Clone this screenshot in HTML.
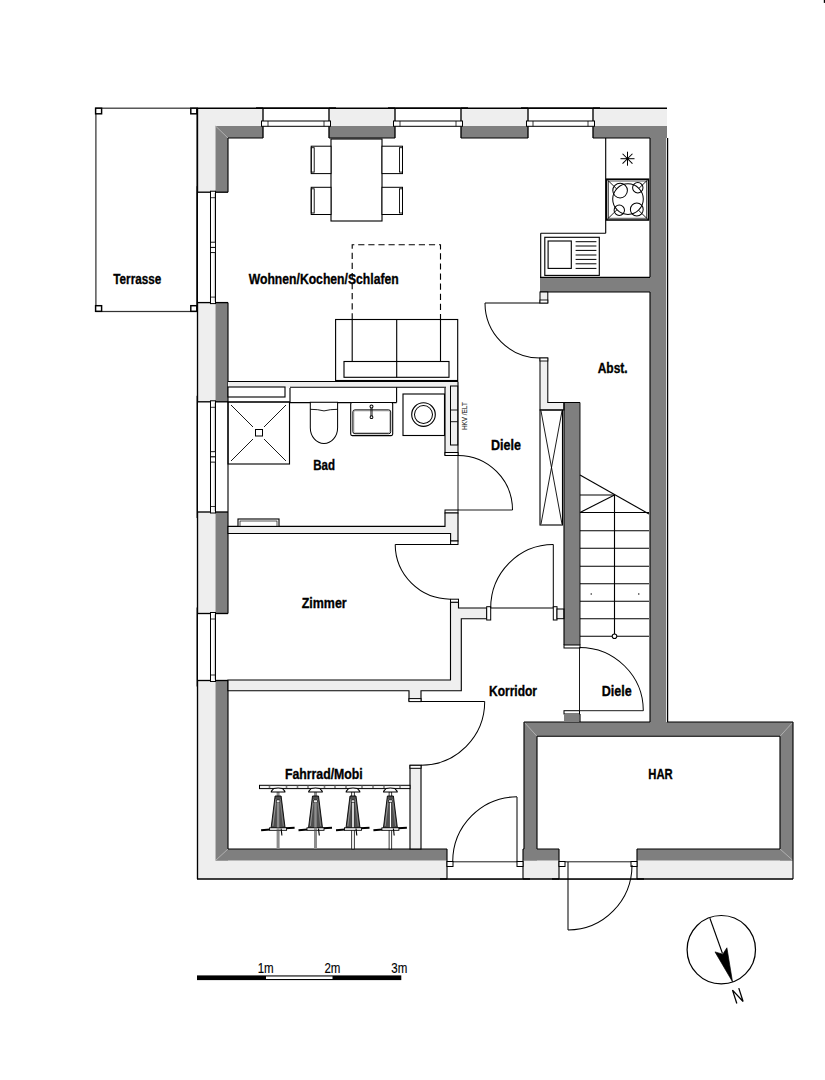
<!DOCTYPE html>
<html><head><meta charset="utf-8"><style>
html,body{margin:0;padding:0;background:#fff;}
svg{display:block;font-family:"Liberation Sans",sans-serif;}
</style></head><body>
<svg width="825" height="1080" viewBox="0 0 825 1080">
<rect x="95.9" y="108.2" width="101.1" height="203.3" fill="none" stroke="#333" stroke-width="1.232"/>
<rect x="95.6" y="108.2" width="6.0" height="5.6" fill="#fff" stroke="#000" stroke-width="1.456"/>
<rect x="190.8" y="108.2" width="6.0" height="5.6" fill="#fff" stroke="#000" stroke-width="1.456"/>
<rect x="95.6" y="305.7" width="6.0" height="5.6" fill="#fff" stroke="#000" stroke-width="1.456"/>
<rect x="190.8" y="305.7" width="6.0" height="5.6" fill="#fff" stroke="#000" stroke-width="1.456"/>
<rect x="197" y="108.2" width="470" height="17.8" fill="#eeeeee" stroke="none" stroke-width="1.12"/>
<rect x="197.5" y="108.2" width="18.0" height="770.8" fill="#eeeeee" stroke="none" stroke-width="1.12"/>
<rect x="197" y="860.5" width="596" height="18.5" fill="#eeeeee" stroke="none" stroke-width="1.12"/>
<rect x="216" y="126" width="451" height="12" fill="#7f7f7f" stroke="none" stroke-width="1.12"/>
<rect x="215.5" y="126" width="12.5" height="734.5" fill="#7f7f7f" stroke="none" stroke-width="1.12"/>
<rect x="650" y="126" width="16.2" height="596" fill="#7f7f7f" stroke="none" stroke-width="1.12"/>
<rect x="216" y="849" width="577" height="11.5" fill="#7f7f7f" stroke="none" stroke-width="1.12"/>
<rect x="524" y="722" width="269" height="14.3" fill="#7f7f7f" stroke="none" stroke-width="1.12"/>
<rect x="780" y="722" width="13" height="138.5" fill="#7f7f7f" stroke="none" stroke-width="1.12"/>
<rect x="524" y="722" width="13" height="138.5" fill="#7f7f7f" stroke="none" stroke-width="1.12"/>
<rect x="540" y="277" width="110" height="15" fill="#7f7f7f" stroke="none" stroke-width="1.12"/>
<rect x="564" y="402.5" width="16" height="242.5" fill="#7f7f7f" stroke="none" stroke-width="1.12"/>
<line x1="215.5" y1="126" x2="228" y2="138" stroke="#b5b5b5" stroke-width="0.896" />
<line x1="215.5" y1="860.5" x2="228" y2="849" stroke="#b5b5b5" stroke-width="0.896" />
<line x1="524" y1="722" x2="537" y2="736.3" stroke="#b5b5b5" stroke-width="0.896" />
<line x1="793" y1="722" x2="780" y2="736.3" stroke="#b5b5b5" stroke-width="0.896" />
<line x1="793" y1="860.5" x2="780" y2="849" stroke="#b5b5b5" stroke-width="0.896" />
<line x1="197" y1="108.2" x2="667" y2="108.2" stroke="#000" stroke-width="1.456" />
<line x1="197.5" y1="108.2" x2="197.5" y2="879" stroke="#000" stroke-width="1.344" />
<line x1="197" y1="879" x2="793" y2="879" stroke="#000" stroke-width="1.456" />
<line x1="228" y1="138" x2="650" y2="138" stroke="#000" stroke-width="1.12" />
<line x1="228" y1="138" x2="228" y2="849" stroke="#000" stroke-width="1.12" />
<line x1="650" y1="138" x2="650" y2="277" stroke="#000" stroke-width="1.12" />
<line x1="650" y1="292" x2="650" y2="722" stroke="#000" stroke-width="1.12" />
<line x1="667.6" y1="138" x2="667.6" y2="722" stroke="#000" stroke-width="1.232" />
<line x1="228" y1="849" x2="524" y2="849" stroke="#000" stroke-width="1.12" />
<line x1="537" y1="849" x2="780" y2="849" stroke="#000" stroke-width="1.12" />
<line x1="537" y1="736.3" x2="780" y2="736.3" stroke="#000" stroke-width="1.12" />
<line x1="537" y1="736.3" x2="537" y2="849" stroke="#000" stroke-width="1.12" />
<line x1="780" y1="736.3" x2="780" y2="849" stroke="#000" stroke-width="1.12" />
<line x1="524" y1="722" x2="650" y2="722" stroke="#000" stroke-width="1.12" />
<line x1="667" y1="722" x2="793" y2="722" stroke="#000" stroke-width="1.12" />
<line x1="793" y1="722" x2="793" y2="879" stroke="#000" stroke-width="1.12" />
<line x1="524" y1="722" x2="524" y2="849" stroke="#000" stroke-width="1.12" />
<line x1="540" y1="292" x2="650" y2="292" stroke="#000" stroke-width="1.12" />
<rect x="263" y="107" width="66" height="32" fill="#fff" stroke="none" stroke-width="1.12"/>
<line x1="256" y1="108.2" x2="336" y2="108.2" stroke="#000" stroke-width="1.792" />
<line x1="263" y1="108.2" x2="263" y2="138" stroke="#000" stroke-width="1.344" />
<line x1="329" y1="108.2" x2="329" y2="138" stroke="#000" stroke-width="1.344" />
<rect x="261.5" y="121" width="69.0" height="5.3" fill="#fff" stroke="#000" stroke-width="1.008"/>
<line x1="268" y1="121" x2="268" y2="126.3" stroke="#000" stroke-width="0.784" />
<line x1="324" y1="121" x2="324" y2="126.3" stroke="#000" stroke-width="0.784" />
<rect x="395" y="107" width="66" height="32" fill="#fff" stroke="none" stroke-width="1.12"/>
<line x1="388" y1="108.2" x2="468" y2="108.2" stroke="#000" stroke-width="1.792" />
<line x1="395" y1="108.2" x2="395" y2="138" stroke="#000" stroke-width="1.344" />
<line x1="461" y1="108.2" x2="461" y2="138" stroke="#000" stroke-width="1.344" />
<rect x="393.5" y="121" width="69.0" height="5.3" fill="#fff" stroke="#000" stroke-width="1.008"/>
<line x1="400" y1="121" x2="400" y2="126.3" stroke="#000" stroke-width="0.784" />
<line x1="456" y1="121" x2="456" y2="126.3" stroke="#000" stroke-width="0.784" />
<rect x="528" y="107" width="65" height="32" fill="#fff" stroke="none" stroke-width="1.12"/>
<line x1="521" y1="108.2" x2="600" y2="108.2" stroke="#000" stroke-width="1.792" />
<line x1="528" y1="108.2" x2="528" y2="138" stroke="#000" stroke-width="1.344" />
<line x1="593" y1="108.2" x2="593" y2="138" stroke="#000" stroke-width="1.344" />
<rect x="526.5" y="121" width="68.0" height="5.3" fill="#fff" stroke="#000" stroke-width="1.008"/>
<line x1="533" y1="121" x2="533" y2="126.3" stroke="#000" stroke-width="0.784" />
<line x1="588" y1="121" x2="588" y2="126.3" stroke="#000" stroke-width="0.784" />
<rect x="197" y="192.2" width="32" height="110.4" fill="#fff" stroke="none" stroke-width="1.12"/>
<line x1="197.3" y1="186.2" x2="197.3" y2="308.6" stroke="#000" stroke-width="1.456" />
<line x1="197" y1="192.2" x2="228" y2="192.2" stroke="#000" stroke-width="1.344" />
<line x1="197" y1="302.6" x2="228" y2="302.6" stroke="#000" stroke-width="1.344" />
<rect x="210.5" y="191.2" width="5.0" height="112.4" fill="#fff" stroke="#000" stroke-width="1.008"/>
<line x1="214.3" y1="193.2" x2="214.3" y2="301.6" stroke="#999" stroke-width="0.56" />
<rect x="210.5" y="242.20000000000002" width="5.0" height="5.2" fill="#fff" stroke="#000" stroke-width="0.896"/>
<rect x="210.5" y="247.4" width="5.0" height="5.2" fill="#fff" stroke="#000" stroke-width="0.896"/>
<line x1="210.5" y1="197.7" x2="215.5" y2="197.7" stroke="#000" stroke-width="0.784" />
<line x1="210.5" y1="297.1" x2="215.5" y2="297.1" stroke="#000" stroke-width="0.784" />
<rect x="197" y="401.8" width="32" height="110.2" fill="#fff" stroke="none" stroke-width="1.12"/>
<line x1="197.3" y1="395.8" x2="197.3" y2="518" stroke="#000" stroke-width="1.456" />
<line x1="197" y1="401.8" x2="228" y2="401.8" stroke="#000" stroke-width="1.344" />
<line x1="197" y1="512" x2="228" y2="512" stroke="#000" stroke-width="1.344" />
<rect x="210.5" y="400.8" width="5.0" height="112.2" fill="#fff" stroke="#000" stroke-width="1.008"/>
<line x1="214.3" y1="402.8" x2="214.3" y2="511" stroke="#999" stroke-width="0.56" />
<rect x="210.5" y="451.7" width="5.0" height="5.2" fill="#fff" stroke="#000" stroke-width="0.896"/>
<rect x="210.5" y="456.9" width="5.0" height="5.2" fill="#fff" stroke="#000" stroke-width="0.896"/>
<line x1="210.5" y1="407.3" x2="215.5" y2="407.3" stroke="#000" stroke-width="0.784" />
<line x1="210.5" y1="506.5" x2="215.5" y2="506.5" stroke="#000" stroke-width="0.784" />
<line x1="228" y1="401.8" x2="228" y2="512" stroke="#000" stroke-width="1.12" />
<rect x="197" y="613.5" width="32" height="67.0" fill="#fff" stroke="none" stroke-width="1.12"/>
<line x1="197.3" y1="607.5" x2="197.3" y2="686.5" stroke="#000" stroke-width="1.456" />
<line x1="197" y1="613.5" x2="228" y2="613.5" stroke="#000" stroke-width="1.344" />
<line x1="197" y1="680.5" x2="228" y2="680.5" stroke="#000" stroke-width="1.344" />
<rect x="210.5" y="612.5" width="5.0" height="69.0" fill="#fff" stroke="#000" stroke-width="1.008"/>
<line x1="214.3" y1="614.5" x2="214.3" y2="679.5" stroke="#999" stroke-width="0.56" />
<line x1="210.5" y1="619.0" x2="215.5" y2="619.0" stroke="#000" stroke-width="0.784" />
<line x1="210.5" y1="675.0" x2="215.5" y2="675.0" stroke="#000" stroke-width="0.784" />
<rect x="447" y="848" width="76" height="31.5" fill="#fff" stroke="none" stroke-width="1.12"/>
<line x1="440" y1="879" x2="530" y2="879" stroke="#000" stroke-width="1.456" />
<line x1="447" y1="849" x2="447" y2="879" stroke="#000" stroke-width="1.12" />
<line x1="523" y1="849" x2="523" y2="879" stroke="#000" stroke-width="1.12" />
<rect x="447" y="861.5" width="6" height="5.0" fill="#fff" stroke="#000" stroke-width="1.008"/>
<rect x="517" y="861.5" width="6" height="5.0" fill="#fff" stroke="#000" stroke-width="1.008"/>
<line x1="453" y1="861.8" x2="517" y2="861.8" stroke="#000" stroke-width="0.896" />
<rect x="559" y="848" width="78" height="31.5" fill="#fff" stroke="none" stroke-width="1.12"/>
<line x1="552" y1="879" x2="644" y2="879" stroke="#000" stroke-width="1.456" />
<line x1="559" y1="849" x2="559" y2="879" stroke="#000" stroke-width="1.12" />
<line x1="637" y1="849" x2="637" y2="879" stroke="#000" stroke-width="1.12" />
<rect x="559" y="861.5" width="6" height="5.0" fill="#fff" stroke="#000" stroke-width="1.008"/>
<rect x="631" y="861.5" width="6" height="5.0" fill="#fff" stroke="#000" stroke-width="1.008"/>
<line x1="565" y1="861.8" x2="631" y2="861.8" stroke="#000" stroke-width="0.896" />
<line x1="605.7" y1="138" x2="605.7" y2="233.2" stroke="#000" stroke-width="1.12" />
<line x1="540.7" y1="233.2" x2="605.7" y2="233.2" stroke="#000" stroke-width="1.12" />
<line x1="540.7" y1="233.2" x2="540.7" y2="277.4" stroke="#000" stroke-width="1.12" />
<line x1="540" y1="277.4" x2="650" y2="277.4" stroke="#000" stroke-width="1.12" />
<line x1="620.5" y1="158.7" x2="634.5" y2="158.7" stroke="#000" stroke-width="1.008" />
<line x1="622.5502525316941" y1="153.75025253169414" x2="632.4497474683059" y2="163.64974746830583" stroke="#000" stroke-width="1.008" />
<line x1="627.5" y1="151.7" x2="627.5" y2="165.7" stroke="#000" stroke-width="1.008" />
<line x1="632.4497474683059" y1="153.75025253169414" x2="622.5502525316941" y2="163.64974746830583" stroke="#000" stroke-width="1.008" />
<circle cx="627.5" cy="158.7" r="1.2" fill="#000" stroke="none" stroke-width="1.12"/>
<line x1="607" y1="179.5" x2="648" y2="219.5" stroke="#000" stroke-width="0.896" />
<line x1="648" y1="179.5" x2="607" y2="219.5" stroke="#000" stroke-width="0.896" />
<rect x="606.5" y="179.2" width="42.0" height="40.8" fill="none" stroke="#000" stroke-width="1.568"/>
<rect x="608.3" y="181" width="38.4" height="37.2" fill="none" stroke="#000" stroke-width="0.672"/>
<circle cx="628" cy="199.1" r="15.3" fill="#fff" stroke="#000" stroke-width="1.008"/>
<circle cx="620.1" cy="190.6" r="7.3" fill="none" stroke="#000" stroke-width="1.008"/>
<circle cx="637.8" cy="187.7" r="5.2" fill="none" stroke="#000" stroke-width="1.008"/>
<circle cx="619.3" cy="210.3" r="5.2" fill="none" stroke="#000" stroke-width="1.008"/>
<circle cx="636.8" cy="209.5" r="6.4" fill="none" stroke="#000" stroke-width="1.008"/>
<rect x="544.8" y="237.3" width="54.5" height="38.1" fill="none" stroke="#000" stroke-width="1.12"/>
<rect x="548.1" y="241" width="23.2" height="27.4" fill="none" stroke="#000" stroke-width="1.12"/>
<line x1="575.6" y1="241.7" x2="596.4" y2="241.7" stroke="#000" stroke-width="1.008" />
<line x1="575.6" y1="246" x2="596.4" y2="246" stroke="#000" stroke-width="1.008" />
<line x1="575.6" y1="250.4" x2="596.4" y2="250.4" stroke="#000" stroke-width="1.008" />
<line x1="575.6" y1="255" x2="596.4" y2="255" stroke="#000" stroke-width="1.008" />
<line x1="575.6" y1="259.4" x2="596.4" y2="259.4" stroke="#000" stroke-width="1.008" />
<line x1="575.6" y1="263.8" x2="596.4" y2="263.8" stroke="#000" stroke-width="1.008" />
<line x1="575.6" y1="268.4" x2="596.4" y2="268.4" stroke="#000" stroke-width="1.008" />
<rect x="331" y="139" width="51" height="82" fill="#fff" stroke="#000" stroke-width="1.12"/>
<rect x="311.2" y="146.2" width="19.8" height="27.4" fill="#fff" stroke="#000" stroke-width="1.008"/>
<rect x="311.2" y="147.7" width="3.0" height="24.4" fill="none" stroke="#000" stroke-width="0.896"/>
<rect x="311.2" y="187.3" width="19.8" height="27.2" fill="#fff" stroke="#000" stroke-width="1.008"/>
<rect x="311.2" y="188.8" width="3.0" height="24.2" fill="none" stroke="#000" stroke-width="0.896"/>
<rect x="382" y="146.2" width="20.5" height="27.4" fill="#fff" stroke="#000" stroke-width="1.008"/>
<rect x="399.5" y="147.7" width="3.0" height="24.4" fill="none" stroke="#000" stroke-width="0.896"/>
<rect x="382" y="187.3" width="20.5" height="27.2" fill="#fff" stroke="#000" stroke-width="1.008"/>
<rect x="399.5" y="188.8" width="3.0" height="24.2" fill="none" stroke="#000" stroke-width="0.896"/>
<rect x="335.6" y="319.5" width="122.1" height="61.0" fill="#fff" stroke="#000" stroke-width="1.12"/>
<line x1="396.7" y1="319.5" x2="396.7" y2="377.3" stroke="#000" stroke-width="1.12" />
<line x1="352.2" y1="319.5" x2="352.2" y2="361.5" stroke="#000" stroke-width="1.12" />
<line x1="440.5" y1="319.5" x2="440.5" y2="361.5" stroke="#000" stroke-width="1.12" />
<rect x="344" y="361.5" width="105" height="15.8" fill="#fff" stroke="#000" stroke-width="1.12"/>
<line x1="396.7" y1="361.5" x2="396.7" y2="377.3" stroke="#000" stroke-width="1.12" />
<path d="M352.2,319.5 V244.7 H440.5 V319.5" fill="none" stroke="#000" stroke-width="1.12" stroke-dasharray="6.2,3.9"/>
<rect x="228" y="382" width="230" height="6" fill="#efefef" stroke="none" stroke-width="1.12"/>
<line x1="228" y1="381.5" x2="458" y2="381.5" stroke="#000" stroke-width="1.12" />
<line x1="290" y1="387.2" x2="446" y2="387.2" stroke="#000" stroke-width="1.12" />
<line x1="396.6" y1="387.2" x2="396.6" y2="402.6" stroke="#000" stroke-width="1.12" />
<rect x="228" y="387" width="57" height="10" fill="#fff" stroke="#000" stroke-width="1.12"/>
<line x1="228" y1="402" x2="290" y2="402" stroke="#000" stroke-width="1.12" />
<line x1="290" y1="388" x2="290" y2="402" stroke="#000" stroke-width="1.12" />
<line x1="290" y1="402.6" x2="396.6" y2="402.6" stroke="#000" stroke-width="1.12" />
<rect x="228" y="402" width="61.5" height="62" fill="none" stroke="#000" stroke-width="1.12"/>
<line x1="231" y1="405" x2="253" y2="427" stroke="#000" stroke-width="0.896" />
<line x1="286" y1="405" x2="264" y2="427" stroke="#000" stroke-width="0.896" />
<line x1="231" y1="461" x2="253" y2="439" stroke="#000" stroke-width="0.896" />
<line x1="286" y1="461" x2="264" y2="439" stroke="#000" stroke-width="0.896" />
<rect x="255.5" y="429.5" width="7.0" height="6.5" fill="#fff" stroke="#000" stroke-width="1.008"/>
<path d="M310.3,402.3 V427.7 A13.65,15.8 0 0 0 337.6,427.7 V402.3 Z" fill="#fff" stroke="#000" stroke-width="1.008" />
<path d="M310.3,409.3 Q318,409.3 324,410.9 Q330,409.3 337.6,409.3" fill="none" stroke="#000" stroke-width="0.896" />
<rect x="350.7" y="402.5" width="42" height="33.1" rx="1.5" fill="#fff" stroke="#000" stroke-width="1.1"/>
<rect x="352.9" y="409.9" width="37.8" height="23.8" rx="2" fill="none" stroke="#000" stroke-width="1"/>
<rect x="353.9" y="410.9" width="35.8" height="21.8" rx="1.5" fill="none" stroke="#777" stroke-width="0.5"/>
<line x1="370.9" y1="407.5" x2="370.9" y2="416.5" stroke="#000" stroke-width="0.784" />
<line x1="372.1" y1="407.5" x2="372.1" y2="416.5" stroke="#000" stroke-width="0.784" />
<circle cx="371.5" cy="406.5" r="1.5" fill="#fff" stroke="#000" stroke-width="1.008"/>
<circle cx="371.5" cy="417.2" r="1.4" fill="#fff" stroke="#000" stroke-width="1.008"/>
<rect x="403" y="394" width="41.5" height="41.5" fill="#fff" stroke="#000" stroke-width="1.12"/>
<circle cx="423.5" cy="414.6" r="11.8" fill="#fff" stroke="#000" stroke-width="1.12"/>
<circle cx="423.5" cy="414.6" r="9" fill="#fff" stroke="#000" stroke-width="1.008"/>
<rect x="445" y="388" width="13" height="67.5" fill="#efefef" stroke="none" stroke-width="1.12"/>
<line x1="445" y1="388" x2="445" y2="455.5" stroke="#000" stroke-width="1.12" />
<line x1="458" y1="381.5" x2="458" y2="455.5" stroke="#000" stroke-width="1.12" />
<rect x="450.5" y="386" width="7.2" height="59" fill="#efefef" stroke="#000" stroke-width="1.008"/>
<line x1="450.5" y1="410" x2="457.7" y2="410" stroke="#000" stroke-width="0.896" />
<line x1="450.5" y1="421.7" x2="457.7" y2="421.7" stroke="#000" stroke-width="0.896" />
<text x="-430" y="466.6" transform="rotate(-90)" font-size="6.8" fill="#333" stroke="#333" stroke-width="0.15" textLength="27.8" lengthAdjust="spacingAndGlyphs">HKV /ELT</text>
<rect x="445" y="452.5" width="13" height="3.0" fill="#fff" stroke="#000" stroke-width="1.008"/>
<line x1="458" y1="455.5" x2="458" y2="510" stroke="#000" stroke-width="0.896" />
<path d="M458,455.5 A54.5,54.5 0 0 1 512.5,510" fill="none" stroke="#000" stroke-width="1.008" />
<line x1="458" y1="510" x2="512.5" y2="510" stroke="#000" stroke-width="0.896" />
<rect x="445" y="510" width="13" height="3" fill="#fff" stroke="#000" stroke-width="1.008"/>
<polygon points="445,513 458,513 458,541 450.6,541 450.6,533.5 228,533.5 228,526.4 445,526.4" fill="#efefef" stroke="#000" stroke-width="1.12"/>
<rect x="450.6" y="541" width="7.4" height="3.5" fill="#fff" stroke="#000" stroke-width="1.008"/>
<rect x="238" y="519" width="41" height="7.4" fill="#fff" stroke="#000" stroke-width="1.12"/>
<rect x="240" y="521" width="37" height="5.4" fill="none" stroke="#000" stroke-width="0.672"/>
<line x1="395.2" y1="544.6" x2="458" y2="544.6" stroke="#000" stroke-width="1.008" />
<path d="M395.2,544.6 A55.1,55 0 0 0 450.3,599.2" fill="none" stroke="#000" stroke-width="1.008" />
<polygon points="450.5,602.2 458.5,602.2 458.5,608 486.7,608 486.7,618.7 461.3,618.7 461.3,690.7 421,690.7 421,701 409,701 409,690.7 228,690.7 228,680 450.5,680" fill="#efefef" stroke="#000" stroke-width="1.12"/>
<rect x="450.5" y="599.2" width="8.0" height="3.0" fill="#fff" stroke="#000" stroke-width="1.008"/>
<rect x="486.7" y="606.7" width="4.0" height="13.3" fill="#fff" stroke="#000" stroke-width="1.008"/>
<rect x="409" y="698.6" width="12" height="3.0" fill="#fff" stroke="#000" stroke-width="1.008"/>
<line x1="490.7" y1="608" x2="553.3" y2="608" stroke="#000" stroke-width="1.008" />
<line x1="553.3" y1="544.5" x2="553.3" y2="608" stroke="#000" stroke-width="1.008" />
<path d="M490.7,608 A62.6,63.5 0 0 1 553.3,544.5" fill="none" stroke="#000" stroke-width="1.008" />
<rect x="553.3" y="606.7" width="3.7" height="13.3" fill="#fff" stroke="#000" stroke-width="1.008"/>
<rect x="557" y="609" width="7" height="9.7" fill="#efefef" stroke="#000" stroke-width="1.008"/>
<rect x="540" y="292" width="7.8" height="11" fill="#efefef" stroke="#000" stroke-width="1.008"/>
<rect x="540" y="300" width="7.8" height="3" fill="#fff" stroke="#000" stroke-width="0.896"/>
<line x1="485" y1="303" x2="540" y2="303" stroke="#000" stroke-width="1.008" />
<path d="M485,303 A55,55 0 0 0 540,358" fill="none" stroke="#000" stroke-width="1.008" />
<polygon points="540,358 547.8,358 547.8,402.5 564,402.5 564,410 540,410" fill="#efefef" stroke="#000" stroke-width="1.008"/>
<rect x="540" y="358" width="7.8" height="3" fill="#fff" stroke="#000" stroke-width="0.896"/>
<line x1="547.8" y1="402.5" x2="580" y2="402.5" stroke="#000" stroke-width="1.12" />
<line x1="564" y1="402.5" x2="564" y2="645" stroke="#000" stroke-width="1.12" />
<line x1="580" y1="402.5" x2="580" y2="645" stroke="#000" stroke-width="0.896" />
<rect x="540" y="410" width="22.5" height="115" fill="none" stroke="#000" stroke-width="1.12"/>
<line x1="541" y1="411" x2="562" y2="524" stroke="#000" stroke-width="0.896" />
<line x1="562" y1="411" x2="541" y2="524" stroke="#000" stroke-width="0.896" />
<line x1="580" y1="475" x2="649" y2="514" stroke="#000" stroke-width="1.12" />
<line x1="580" y1="495" x2="614.5" y2="495" stroke="#000" stroke-width="1.12" />
<line x1="580" y1="512.5" x2="614.5" y2="495" stroke="#000" stroke-width="1.12" />
<line x1="580" y1="512.5" x2="649" y2="512.5" stroke="#000" stroke-width="1.12" />
<line x1="580" y1="530.75" x2="649" y2="530.75" stroke="#000" stroke-width="1.12" />
<line x1="580" y1="548.25" x2="649" y2="548.25" stroke="#000" stroke-width="1.12" />
<line x1="580" y1="566.25" x2="649" y2="566.25" stroke="#000" stroke-width="1.12" />
<line x1="580" y1="583.75" x2="649" y2="583.75" stroke="#000" stroke-width="1.12" />
<line x1="580" y1="601.25" x2="649" y2="601.25" stroke="#000" stroke-width="1.12" />
<line x1="580" y1="618.75" x2="649" y2="618.75" stroke="#000" stroke-width="1.12" />
<line x1="580" y1="636.25" x2="649" y2="636.25" stroke="#000" stroke-width="1.12" />
<line x1="614.5" y1="495" x2="614.5" y2="634" stroke="#000" stroke-width="1.12" />
<circle cx="614.5" cy="636.25" r="2.3" fill="#fff" stroke="#000" stroke-width="1.008"/>
<circle cx="591.2" cy="594" r="0.7" fill="#000" stroke="none" stroke-width="1.12"/>
<circle cx="638.8" cy="594" r="0.7" fill="#000" stroke="none" stroke-width="1.12"/>
<rect x="564" y="645" width="16" height="3" fill="#fff" stroke="#000" stroke-width="1.008"/>
<line x1="579.5" y1="647.5" x2="579.5" y2="710.7" stroke="#000" stroke-width="0.896" />
<path d="M579.5,647.5 A63.8,63.2 0 0 1 643.3,710.7" fill="none" stroke="#000" stroke-width="1.008" />
<line x1="579.5" y1="710.7" x2="643.3" y2="710.7" stroke="#000" stroke-width="0.896" />
<rect x="564" y="710.7" width="15.5" height="3.3" fill="#fff" stroke="#000" stroke-width="1.008"/>
<rect x="564" y="714" width="15.5" height="8" fill="#7f7f7f" stroke="none" stroke-width="1.12"/>
<line x1="580" y1="714" x2="580" y2="722" stroke="#000" stroke-width="1.12" />
<line x1="421" y1="701.6" x2="484.7" y2="701.6" stroke="#000" stroke-width="1.008" />
<path d="M484.7,701.6 A63.7,63.7 0 0 1 421,765.3" fill="none" stroke="#000" stroke-width="1.008" />
<rect x="410" y="765.3" width="11" height="83.7" fill="#efefef" stroke="#000" stroke-width="1.12"/>
<rect x="410" y="765.3" width="11" height="3.0" fill="#fff" stroke="#000" stroke-width="1.008"/>
<rect x="259.5" y="785.3" width="150.5" height="3.3" fill="#f2f2f2" stroke="#000" stroke-width="1.008"/>
<line x1="269.5" y1="785.8" x2="269.5" y2="788.1" stroke="#777" stroke-width="1.568" />
<line x1="286.5" y1="785.8" x2="286.5" y2="788.1" stroke="#777" stroke-width="1.568" />
<line x1="297.5" y1="785.8" x2="297.5" y2="788.1" stroke="#777" stroke-width="1.568" />
<line x1="308" y1="785.8" x2="308" y2="788.1" stroke="#777" stroke-width="1.568" />
<line x1="324.5" y1="785.8" x2="324.5" y2="788.1" stroke="#777" stroke-width="1.568" />
<line x1="335" y1="785.8" x2="335" y2="788.1" stroke="#777" stroke-width="1.568" />
<line x1="346" y1="785.8" x2="346" y2="788.1" stroke="#777" stroke-width="1.568" />
<line x1="362" y1="785.8" x2="362" y2="788.1" stroke="#777" stroke-width="1.568" />
<line x1="373" y1="785.8" x2="373" y2="788.1" stroke="#777" stroke-width="1.568" />
<line x1="384" y1="785.8" x2="384" y2="788.1" stroke="#777" stroke-width="1.568" />
<line x1="400" y1="785.8" x2="400" y2="788.1" stroke="#777" stroke-width="1.568" />
<rect x="276.6" y="791.8" width="3.0" height="57.2" fill="#8d8d8d" stroke="none" stroke-width="1.12"/>
<polygon points="275.1,796 281.1,796 285.1,828 271.1,828" fill="#4f4f4f" stroke="#000" stroke-width="0.896"/>
<line x1="276.1" y1="799" x2="272.90000000000003" y2="826" stroke="#bbb" stroke-width="0.672" />
<line x1="280.1" y1="799" x2="283.3" y2="826" stroke="#999" stroke-width="0.672" />
<rect x="276.3" y="800" width="3.6" height="2.2" fill="#fff" stroke="#000" stroke-width="0.56"/>
<rect x="276.90000000000003" y="802.2" width="2.4" height="25.8" fill="#8d8d8d" stroke="none" stroke-width="1.12"/>
<path d="M273.6,788.6 Q278.1,787.6 282.6,788.6 L284.90000000000003,791.3 L284.90000000000003,791.9 L271.3,791.9 L271.3,791.3 Z" fill="#fff" stroke="#000" stroke-width="1.008" />
<line x1="261.1" y1="830.2" x2="270.1" y2="829.4" stroke="#000" stroke-width="2.016" />
<line x1="285.1" y1="828.2" x2="294.6" y2="827.8" stroke="#000" stroke-width="2.016" />
<rect x="269.6" y="827.8" width="17.0" height="2.5" fill="#fff" stroke="#000" stroke-width="0.896"/>
<rect x="276.6" y="827.8" width="3.0" height="2.5" fill="#8d8d8d" stroke="none" stroke-width="1.12"/>
<line x1="281.1" y1="828.5" x2="281.90000000000003" y2="835.5" stroke="#000" stroke-width="1.12" />
<rect x="314.0" y="791.8" width="3.0" height="57.2" fill="#8d8d8d" stroke="none" stroke-width="1.12"/>
<polygon points="312.5,796 318.5,796 322.5,828 308.5,828" fill="#4f4f4f" stroke="#000" stroke-width="0.896"/>
<line x1="313.5" y1="799" x2="310.3" y2="826" stroke="#bbb" stroke-width="0.672" />
<line x1="317.5" y1="799" x2="320.7" y2="826" stroke="#999" stroke-width="0.672" />
<rect x="313.7" y="800" width="3.6" height="2.2" fill="#fff" stroke="#000" stroke-width="0.56"/>
<rect x="314.3" y="802.2" width="2.4" height="25.8" fill="#8d8d8d" stroke="none" stroke-width="1.12"/>
<path d="M311.0,788.6 Q315.5,787.6 320.0,788.6 L322.3,791.3 L322.3,791.9 L308.7,791.9 L308.7,791.3 Z" fill="#fff" stroke="#000" stroke-width="1.008" />
<line x1="298.5" y1="830.2" x2="307.5" y2="829.4" stroke="#000" stroke-width="2.016" />
<line x1="322.5" y1="828.2" x2="332.0" y2="827.8" stroke="#000" stroke-width="2.016" />
<rect x="307.0" y="827.8" width="17.0" height="2.5" fill="#fff" stroke="#000" stroke-width="0.896"/>
<rect x="314.0" y="827.8" width="3.0" height="2.5" fill="#8d8d8d" stroke="none" stroke-width="1.12"/>
<line x1="318.5" y1="828.5" x2="319.3" y2="835.5" stroke="#000" stroke-width="1.12" />
<rect x="351.7" y="791.8" width="2.6" height="57.2" fill="#fff" stroke="#000" stroke-width="0.784"/>
<polygon points="350,796 356,796 360,828 346,828" fill="#4f4f4f" stroke="#000" stroke-width="0.896"/>
<line x1="351" y1="799" x2="347.8" y2="826" stroke="#bbb" stroke-width="0.672" />
<line x1="355" y1="799" x2="358.2" y2="826" stroke="#999" stroke-width="0.672" />
<rect x="351.2" y="800" width="3.6" height="2.2" fill="#fff" stroke="#000" stroke-width="0.56"/>
<rect x="351.9" y="802.2" width="2.2" height="25.8" fill="#fff" stroke="#000" stroke-width="0.56"/>
<path d="M348.5,788.6 Q353,787.6 357.5,788.6 L359.8,791.3 L359.8,791.9 L346.2,791.9 L346.2,791.3 Z" fill="#fff" stroke="#000" stroke-width="1.008" />
<line x1="336" y1="830.2" x2="345" y2="829.4" stroke="#000" stroke-width="2.016" />
<line x1="360" y1="828.2" x2="369.5" y2="827.8" stroke="#000" stroke-width="2.016" />
<rect x="344.5" y="827.8" width="17.0" height="2.5" fill="#fff" stroke="#000" stroke-width="0.896"/>
<line x1="356" y1="828.5" x2="356.8" y2="835.5" stroke="#000" stroke-width="1.12" />
<rect x="389.09999999999997" y="791.8" width="2.6" height="57.2" fill="#fff" stroke="#000" stroke-width="0.784"/>
<polygon points="387.4,796 393.4,796 397.4,828 383.4,828" fill="#4f4f4f" stroke="#000" stroke-width="0.896"/>
<line x1="388.4" y1="799" x2="385.2" y2="826" stroke="#bbb" stroke-width="0.672" />
<line x1="392.4" y1="799" x2="395.59999999999997" y2="826" stroke="#999" stroke-width="0.672" />
<rect x="388.59999999999997" y="800" width="3.6" height="2.2" fill="#fff" stroke="#000" stroke-width="0.56"/>
<rect x="389.29999999999995" y="802.2" width="2.2" height="25.8" fill="#fff" stroke="#000" stroke-width="0.56"/>
<path d="M385.9,788.6 Q390.4,787.6 394.9,788.6 L397.2,791.3 L397.2,791.9 L383.59999999999997,791.9 L383.59999999999997,791.3 Z" fill="#fff" stroke="#000" stroke-width="1.008" />
<line x1="373.4" y1="830.2" x2="382.4" y2="829.4" stroke="#000" stroke-width="2.016" />
<line x1="397.4" y1="828.2" x2="406.9" y2="827.8" stroke="#000" stroke-width="2.016" />
<rect x="381.9" y="827.8" width="17.0" height="2.5" fill="#fff" stroke="#000" stroke-width="0.896"/>
<line x1="393.4" y1="828.5" x2="394.2" y2="835.5" stroke="#000" stroke-width="1.12" />
<line x1="517" y1="797" x2="517" y2="861.8" stroke="#000" stroke-width="1.008" />
<path d="M452.7,861.8 A64.3,65 0 0 1 517,796.8" fill="none" stroke="#000" stroke-width="1.008" />
<line x1="568" y1="862" x2="568" y2="930" stroke="#000" stroke-width="1.008" />
<path d="M568,930 A64,65 0 0 0 632,865" fill="none" stroke="#000" stroke-width="1.008" />
<rect x="197" y="975.4" width="204.3" height="4.7" fill="#000" stroke="none" stroke-width="1.12"/>
<rect x="266" y="976.5" width="66.5" height="2.5" fill="#fff" stroke="none" stroke-width="1.12"/>
<text x="257.7" y="973.3" font-size="14.8" textLength="16" lengthAdjust="spacingAndGlyphs" stroke="#000" stroke-width="0.15">1m</text>
<text x="324.4" y="973.3" font-size="14.8" textLength="16" lengthAdjust="spacingAndGlyphs" stroke="#000" stroke-width="0.15">2m</text>
<text x="391.3" y="973.3" font-size="14.8" textLength="16" lengthAdjust="spacingAndGlyphs" stroke="#000" stroke-width="0.15">3m</text>
<circle cx="721.3" cy="949.7" r="34.2" fill="none" stroke="#000" stroke-width="1.232"/>
<line x1="709.9" y1="918.2" x2="722.5" y2="953.5" stroke="#000" stroke-width="1.12" />
<polygon points="732.5,981.8 726.9,947.8 722.8,954.2 715,951.9" fill="#000" stroke="#000" stroke-width="0.672"/>
<path d="M-3.3,7 V-7 L3.3,7 V-7" fill="none" stroke="#000" stroke-width="1.288" transform="translate(737.8,995.8) rotate(-18)" stroke-linejoin="miter"/>
<rect x="823.8" y="0" width="1.2" height="2.9" fill="#000" stroke="none" stroke-width="1.12"/>
<text x="313.3" y="469.7" font-size="14.9" font-weight="bold" textLength="21.7" lengthAdjust="spacingAndGlyphs" stroke="#000" stroke-width="0.35" >Bad</text>
<text x="301.7" y="607.6999999999999" font-size="14.9" font-weight="bold" textLength="45" lengthAdjust="spacingAndGlyphs" stroke="#000" stroke-width="0.35" >Zimmer</text>
<text x="285" y="779.4" font-size="14.9" font-weight="bold" textLength="77.7" lengthAdjust="spacingAndGlyphs" stroke="#000" stroke-width="0.35" >Fahrrad/Mobi</text>
<text x="489" y="696.0" font-size="14.9" font-weight="bold" textLength="48" lengthAdjust="spacingAndGlyphs" stroke="#000" stroke-width="0.35" >Korridor</text>
<text x="491" y="450.0" font-size="14.9" font-weight="bold" textLength="30" lengthAdjust="spacingAndGlyphs" stroke="#000" stroke-width="0.35" >Diele</text>
<text x="597.7" y="372.7" font-size="14.9" font-weight="bold" textLength="30" lengthAdjust="spacingAndGlyphs" stroke="#000" stroke-width="0.35" >Abst.</text>
<text x="601.7" y="696.1" font-size="14.9" font-weight="bold" textLength="30" lengthAdjust="spacingAndGlyphs" stroke="#000" stroke-width="0.35" >Diele</text>
<text x="648.3" y="779.4" font-size="14.9" font-weight="bold" textLength="24.4" lengthAdjust="spacingAndGlyphs" stroke="#000" stroke-width="0.35" >HAR</text>
<text x="113.3" y="283.7" font-size="14.9" font-weight="bold" textLength="48" lengthAdjust="spacingAndGlyphs" stroke="#000" stroke-width="0.35" >Terrasse</text>
<text x="248.7" y="284.0" font-size="14.9" font-weight="bold" textLength="150" lengthAdjust="spacingAndGlyphs" stroke="#000" stroke-width="0.35" >Wohnen/Kochen/Schlafen</text>
</svg></body></html>
